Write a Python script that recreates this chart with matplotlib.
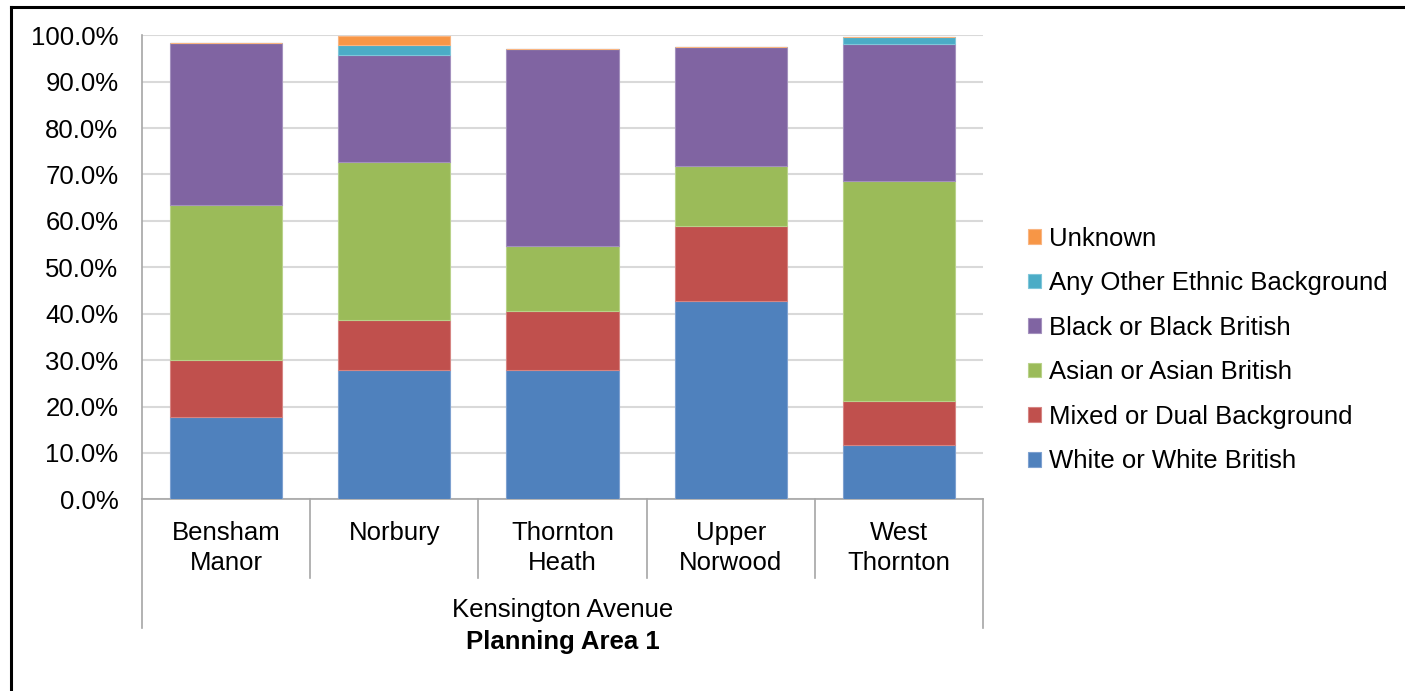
import matplotlib
matplotlib.use("Agg")
import matplotlib.pyplot as plt
import numpy as np
from matplotlib.lines import Line2D

plt.rcParams["font.family"] = ["Liberation Sans", "DejaVu Sans"]

# Données (% par quartier)
WARDS = ["Bensham\nManor", "Norbury", "Thornton\nHeath", "Upper\nNorwood", "West\nThornton"]
WHITE = [17.8, 27.9, 27.9, 42.7, 11.6]
MIXED = [12.2, 10.7, 12.7, 16.1, 9.6]
ASIAN = [33.4, 34.2, 14.0, 13.0, 47.5]
BLACK = [34.9, 23.0, 42.5, 25.6, 29.5]
OTHER = [0.0, 2.1, 0.0, 0.0, 1.4]
UNKNOWN = [0.0, 2.0, 0.0, 0.0, 0.0]

SERIES = [
    ("White or White British", WHITE, "#4F81BD", "#7EA1D0"),
    ("Mixed or Dual Background", MIXED, "#C0504D", "#D68583"),
    ("Asian or Asian British", ASIAN, "#9BBB59", "#B9D28A"),
    ("Black or Black British", BLACK, "#8064A2", "#A491BE"),
    ("Any Other Ethnic Background", OTHER, "#4BACC6", "#7FC6D9"),
    ("Unknown", UNKNOWN, "#F79646", "#F9B581"),
]

LEVEL2 = "Kensington Avenue"
LEVEL3 = "Planning Area 1"
YTICKS = np.arange(0, 101, 10)

FS = 18.5
W, H = 1405, 691
fig = plt.figure(figsize=(W / 100, H / 100), dpi=100)
ax = fig.add_axes([142 / W, 1 - 499.3 / H, (983 - 142) / W, (499.3 - 35.3) / H])

x = np.arange(len(WARDS))
bottom = np.zeros(len(WARDS))
for name, vals, col, edge in SERIES:
    vals = np.array(vals)
    ax.bar(x, vals, width=0.667, bottom=bottom, color=col, edgecolor=edge,
           linewidth=0.8, label=name, zorder=3)
    bottom += vals

ax.set_xlim(-0.5, len(WARDS) - 0.5)
ax.set_ylim(0, 100)
ax.set_yticks(YTICKS)
ax.set_yticklabels([f"{v:.1f}%" for v in YTICKS], fontsize=FS)
ax.tick_params(axis="y", length=0, pad=17)
ax.set_xticks([])
ax.grid(axis="y", color="#D9D9D9", linewidth=1.5, zorder=0)

for s in ["top", "right"]:
    ax.spines[s].set_visible(False)
ax.spines["left"].set_color("#A6A6A6")
ax.spines["bottom"].set_color("#A6A6A6")
ax.spines["left"].set_linewidth(1.2)
ax.spines["bottom"].set_linewidth(1.2)

# axe des catégories multi-niveaux (style Excel)
trans = ax.get_xaxis_transform()
ph = 499.3 - 35.3
inner_end = -(578 - 499.3) / ph
outer_end = -(628 - 499.3) / ph
for i in range(len(WARDS) + 1):
    xe = i - 0.5
    yend = outer_end if i in (0, len(WARDS)) else inner_end
    ax.plot([xe, xe], [0, yend], transform=trans, color="#A6A6A6",
            linewidth=1.2, clip_on=False)

for i, w in enumerate(WARDS):
    ax.text(i, -(521 - 499.3) / ph, w, transform=trans, ha="center", va="top",
            fontsize=FS, linespacing=1.3)
ax.text(2, -(610 - 499.3) / ph, LEVEL2, transform=trans, ha="center", va="center",
        fontsize=FS)
ax.text(2, -(642 - 499.3) / ph, LEVEL3, transform=trans, ha="center", va="center",
        fontsize=FS, fontweight="bold")

handles, labels = ax.get_legend_handles_labels()
leg = fig.legend(handles[::-1], labels[::-1], loc="center left",
                 bbox_to_anchor=(1018 / W, 1 - 350 / H), frameon=False,
                 fontsize=FS, handlelength=0.5, handleheight=0.5,
                 handletextpad=0.3, labelspacing=0.8, borderaxespad=0)

# cadre
fig.add_artist(Line2D([11 / W, 1], [1 - 6.5 / H, 1 - 6.5 / H], color="black", linewidth=2.2))
fig.add_artist(Line2D([11 / W, 11 / W], [0, 1 - 6.5 / H], color="black", linewidth=2.2))

fig.savefig("out.png", dpi=100)
